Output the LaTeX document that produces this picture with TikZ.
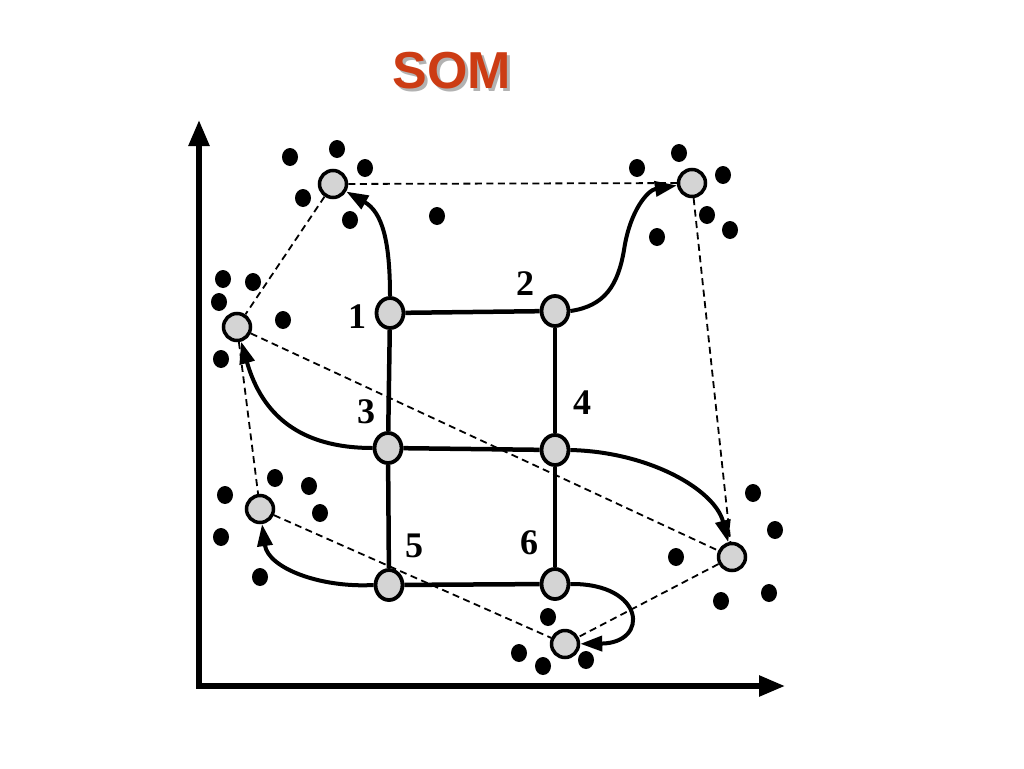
\documentclass[tikz,border=0pt]{standalone}
\usepackage{fontspec}
\setmainfont{Liberation Serif}
\newfontfamily\titlefont{Liberation Sans}
\usetikzlibrary{arrows.meta,shapes.geometric}
\definecolor{somred}{RGB}{204,60,20}
\definecolor{nodegray}{RGB}{212,212,212}
\begin{document}
\begin{tikzpicture}[x=1pt,y=-1pt,
  gridnode/.style={ellipse, draw, fill=nodegray, line width=3.8pt, minimum width=27pt, minimum height=30pt, inner sep=0pt},
  neuron/.style={circle, draw, fill=nodegray, line width=3.5pt, minimum size=27pt, inner sep=0pt},
  datadot/.style={ellipse, fill=black, minimum width=16pt, minimum height=18pt, inner sep=0pt},
  gridline/.style={line width=4.5pt},
  dashline/.style={line width=1.8pt, dash pattern=on 7pt off 4.5pt},
  curvearrow/.style={line width=4pt, -{Triangle[length=22pt,width=15pt]}},
  axisline/.style={line width=5.5pt, line join=miter, {Triangle[length=26pt,width=20pt]}-{Triangle[length=26pt,width=20pt]}},
  digit/.style={font=\fontsize{36}{36}\selectfont\bfseries}
]
\useasboundingbox (0,0) rectangle (1024,768);
\fill[white] (0,0) rectangle (1024,768);

% title with shadow
\node[font=\titlefont\fontsize{52}{52}\selectfont\bfseries, text=somred] (title) at (452,72)
  {\makebox[0pt][l]{\hspace{3pt}\raisebox{-3pt}{\color{black!30}SOM}}SOM};

% axes
\coordinate (ytip) at (199,120);
\coordinate (origin) at (199,686);
\coordinate (xtip) at (785,686);
\draw[axisline] (ytip) -- (origin) -- (xtip);

% data points
\foreach \i/\x/\y in {1/290/157, 2/337/149, 3/365/168, 4/303/198, 5/350/220, 6/437/216,
  7/223/279, 8/253/282, 9/219/302, 10/283/320, 11/221/359,
  12/637/168, 13/679/153, 14/723/175, 15/707/215, 16/730/230, 17/657/237,
  18/275/478, 19/309/486, 20/225/495, 21/320/513, 22/221/537, 23/260/577,
  24/753/493, 25/775/530, 26/676/557, 27/769/593, 28/721/601,
  29/548/617, 30/519/653, 31/543/666, 32/586/660}
  \node[datadot] (d\i) at (\x,\y) {};

% neurons (targets)
\node[neuron] (A) at (333,184) {};
\node[neuron] (B) at (692,183) {};
\node[neuron] (C) at (237,327) {};
\node[neuron] (D) at (260,509) {};
\node[neuron] (E) at (732,557) {};
\node[neuron] (F) at (565,644) {};

% grid nodes
\node[gridnode] (n1) at (390,313) {};
\node[gridnode] (n2) at (555,311) {};
\node[gridnode] (n3) at (388,448) {};
\node[gridnode] (n4) at (555,450) {};
\node[gridnode] (n5) at (389,585) {};
\node[gridnode] (n6) at (555,584) {};

% labels
\node[digit] (l1) at (357,317) {1};
\node[digit] (l2) at (525,284) {2};
\node[digit] (l3) at (366,412) {3};
\node[digit] (l4) at (582,403) {4};
\node[digit] (l5) at (414,546) {5};
\node[digit] (l6) at (529,543) {6};

% dashed map
\draw[dashline] (A) -- (B);
\draw[dashline] (A) -- (C);
\draw[dashline] (B) -- (E);
\draw[dashline] (C) -- (D);
\draw[dashline] (C) -- (E);
\draw[dashline] (D) -- (F);
\draw[dashline] (E) -- (F);

% grid lines
\draw[gridline] (n1) -- (n2);
\draw[gridline] (n3) -- (n4);
\draw[gridline] (n5) -- (n6);
\draw[gridline] (n1) -- (n3);
\draw[gridline] (n3) -- (n5);
\draw[gridline] (n2) -- (n4);
\draw[gridline] (n4) -- (n6);

% curved arrows
\draw[curvearrow] (n1.north) .. controls (390,240) and (382,212) .. (A);
\draw[curvearrow] (n2.east) .. controls (605,306) and (618,285) .. (624,250) .. controls (630,210) and (648,190) .. (B);
\draw[curvearrow] (n3.west) .. controls (300,448) and (262,415) .. (C);
\draw[curvearrow] (n4.east) .. controls (650,452) and (715,490) .. (E);
\draw[curvearrow] (n5.west) .. controls (320,588) and (268,568) .. (D);
\draw[curvearrow] (n6.east) .. controls (645,583) and (650,643) .. (F);

\end{tikzpicture}
\end{document}
